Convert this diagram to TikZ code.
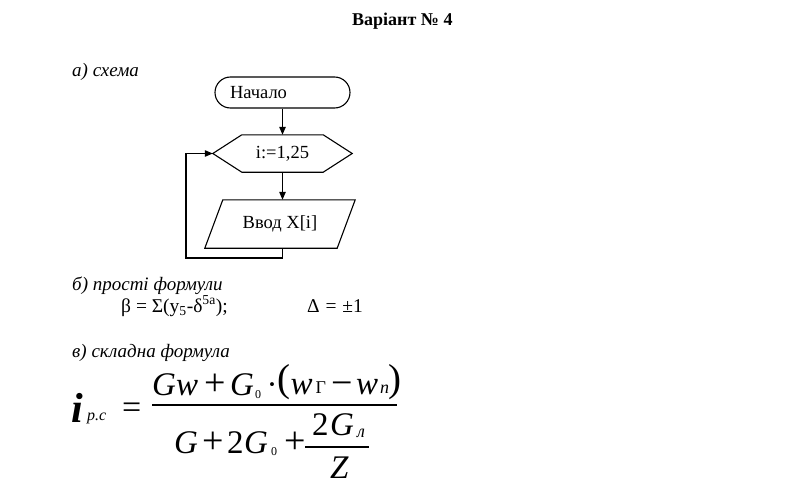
\documentclass[tikz,border=0pt]{standalone}
\usepackage{fontspec}
\setmainfont{Liberation Serif}
\usetikzlibrary{arrows.meta,shapes.misc}
\newcommand\fbody{\fontsize{18.5}{21}\selectfont}
\newcommand\fhead{\fontsize{19}{22}\selectfont\itshape}
\newcommand\fform{\fontsize{19.5}{22}\selectfont}
\newcommand\ftitle{\fontsize{18}{22}\selectfont\bfseries}
\newcommand\fbig{\fontsize{33}{38}\selectfont}
\newcommand\fop{\fontsize{38}{42}\selectfont}
\newcommand\fpar{\fontsize{39}{44}\selectfont}
\newcommand\fsubs{\fontsize{18}{20}\selectfont}
\newcommand\fzero{\fontsize{12}{14}\selectfont}
\tikzset{
  box/.style={draw, line width=1.1pt, inner sep=0pt, font=\fbody},
  ghost/.style={inner sep=0pt, font=\fbody},
  arr/.style={line width=1.1pt, -{Triangle[length=8pt,width=6.5pt]}},
  txt/.style={anchor=base west, inner sep=0pt},
  fm/.style={anchor=base west, inner sep=0pt, font=\fbig},
  fo/.style={anchor=base west, inner sep=0pt, font=\fop},
  fp/.style={anchor=base west, inner sep=0pt, font=\fpar},
  fs/.style={anchor=base west, inner sep=0pt, font=\fsubs},
  fz/.style={anchor=base west, inner sep=0pt, font=\fzero},
  bar/.style={line width=1.4pt}
}
\begin{document}
\begin{tikzpicture}[x=1pt,y=-1pt]
\useasboundingbox[fill=white] (0,0) rectangle (788,503);
% title and headings
\node[txt, font=\ftitle] (title) at (352,26) {Варіант № 4};
\node[txt, font=\fhead] (ha) at (72,77) {а) схема};
\node[txt, font=\fhead] (hb) at (72,290) {б) прості формули};
\node[txt, font=\fhead] (hc) at (72,357) {в) складна формула};
% flowchart
\node[box, rounded rectangle, minimum width=135, minimum height=31] (start) at (282.5,92.5) {Начало\hspace*{48pt}};
\node[ghost, minimum width=139, minimum height=37] (hex) at (282.5,153.5) {i:=1,25};
\draw[line width=1.1pt] (hex.west) -- ([xshift=29]hex.north west) -- ([xshift=-29]hex.north east) -- (hex.east) -- ([xshift=-29]hex.south east) -- ([xshift=29]hex.south west) -- cycle;
\node[ghost, minimum width=150, minimum height=48] (io) at (280,224) {Ввод X[i]};
\draw[line width=1.1pt] ([xshift=18]io.north west) -- (io.north east) -- ([xshift=-18]io.south east) -- (io.south west) -- cycle;
\coordinate (loop) at (186,258);
\draw[arr] (start.south) -- (hex.north);
\draw[arr] (hex.south) -- (hex.south |- io.north);
\draw[arr] (hex.south |- io.south) |- (loop) |- (hex.west);
% simple formulas
\node[txt, font=\fform] (f1) at (121,312) {β = Σ(y\textsubscript{5}-δ\textsuperscript{5a});};
\node[txt, font=\fform] (f2) at (307,312) {Δ\hspace{1pt} = \hspace{1pt}±1};
% complex formula
\node[txt, font=\fontsize{42}{48}\selectfont\bfseries\itshape] (ii) at (71,422) {i};
\node[txt, font=\fontsize{16}{19}\selectfont\itshape] (isub) at (87,420) {p.c};
\node[txt, font=\fontsize{34}{40}\selectfont] (eq) at (122,418) {=};
% numerator
\node[fm] (n1) at (152,395) {\itshape Gw};
\node[fo] (n2) at (204,395) {+};
\node[fm] (n3) at (230,395) {\itshape G};
\node[fz] (n4) at (255,398) {0};
\node[fm] (n5) at (266.5,395) {·};
\node[fp] (n6) at (277,391) {(};
\node[fm] (n7) at (290.5,394) {\itshape w};
\node[fs] (n8) at (315.5,393) {Г};
\node[fo] (n9) at (331,395) {−};
\node[fm] (n10) at (356,394) {\itshape w};
\node[fs] (n11) at (380,393) {\itshape n};
\node[fp] (n12) at (388,391) {)};
\coordinate (b1) at (152,405);
\coordinate (b2) at (397,405);
\draw[bar] (b1) -- (b2);
% denominator
\node[fm] (d1) at (174,453) {\itshape G};
\node[fo] (d2) at (202,453) {+};
\node[fm] (d3) at (227,453) {2};
\node[fm] (d4) at (244,453) {\itshape G};
\node[fz] (d5) at (271,455) {0};
\node[fo] (d6) at (284,453) {+};
\node[fm] (d7) at (312,435) {2};
\node[fm] (d8) at (330,435) {\itshape G};
\node[fs] (d9) at (357,437) {\itshape л};
\node[fm] (d10) at (330,478) {\itshape Z};
\coordinate (c1) at (305,447);
\coordinate (c2) at (369,447);
\draw[bar] (c1) -- (c2);
\end{tikzpicture}
\end{document}
